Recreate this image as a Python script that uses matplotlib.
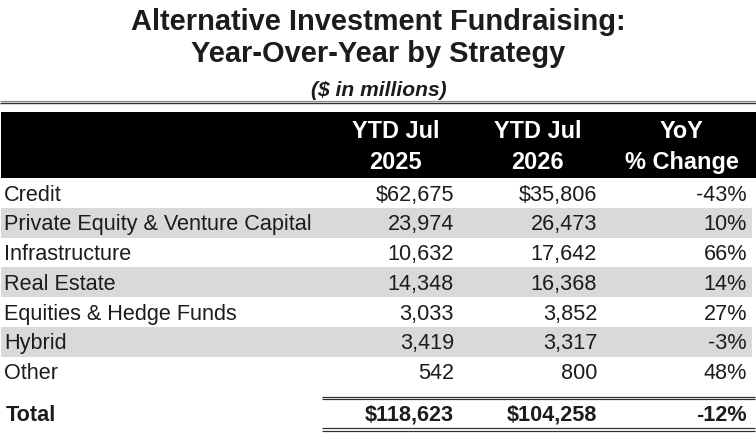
import matplotlib
matplotlib.use("Agg")
import matplotlib.pyplot as plt
from matplotlib.patches import Rectangle

plt.rcParams['font.family'] = ['Liberation Sans', 'DejaVu Sans']

title_lines = ["Alternative Investment Fundraising:", "Year-Over-Year by Strategy"]
subtitle = "($ in millions)"
col_headers = [("YTD Jul", "2025"), ("YTD Jul", "2026"), ("YoY", "% Change")]
strategies = ["Credit", "Private Equity & Venture Capital", "Infrastructure",
              "Real Estate", "Equities & Hedge Funds", "Hybrid", "Other"]
ytd_2025 = [62675, 23974, 10632, 14348, 3033, 3419, 542]
ytd_2026 = [35806, 26473, 17642, 16368, 3852, 3317, 800]
yoy_pct = [-43, 10, 66, 14, 27, -3, 48]
total_label = "Total"

total_2025 = sum(ytd_2025)
total_2026 = sum(ytd_2026)
total_pct = round((total_2026 / total_2025 - 1) * 100)

W, H = 756, 444
fig = plt.figure(figsize=(W / 100, H / 100), dpi=100)
ax = fig.add_axes([0, 0, 1, 1])
ax.set_xlim(0, W)
ax.set_ylim(H, 0)
ax.axis('off')

PX = 0.72  # points per pixel
TXT = '#1c1c1c'

# Title
ax.text(W / 2, 29.5, title_lines[0], ha='center', va='baseline',
        fontsize=29 * PX, fontweight='bold', color=TXT)
ax.text(W / 2, 62, title_lines[1], ha='center', va='baseline',
        fontsize=29 * PX, fontweight='bold', color=TXT)
ax.text(W / 2 + 1, 96, subtitle, ha='center', va='baseline',
        fontsize=21 * PX, fontweight='bold', fontstyle='italic', color=TXT)

# Top rule
ax.plot([0, W], [101.5, 101.5], color='#8a8a8a', lw=1.2 * PX, solid_capstyle='butt')
ax.plot([0, W], [103.2, 103.2], color='#303030', lw=1.4 * PX, solid_capstyle='butt')

# Header box
ax.add_patch(Rectangle((1, 112), W - 1, 66, facecolor='black', edgecolor='none'))
head_x = [395.5, 537.5, 682]
for hx, (l1, l2) in zip(head_x, col_headers):
    ax.text(hx, 138, l1, ha='center', va='baseline', fontsize=23.5 * PX,
            fontweight='bold', color='white')
    ax.text(hx, 169, l2, ha='center', va='baseline', fontsize=23.5 * PX,
            fontweight='bold', color='white')

# Rows
row0 = 193.0
pitch = 29.75
right_x = [454, 597, 747]
fs = 21.6 * PX
for i, name in enumerate(strategies):
    yc = row0 + i * pitch
    if i % 2 == 1:
        ax.add_patch(Rectangle((1, yc - 14.9), 751, 29.8, facecolor='#d9d9d9',
                               edgecolor='none'))
    yb = yc + 7.5
    prefix = "$" if i == 0 else ""
    ax.text(4, yb, name, ha='left', va='baseline', fontsize=fs, color=TXT)
    ax.text(right_x[0], yb, f"{prefix}{ytd_2025[i]:,}", ha='right', va='baseline',
            fontsize=fs, color=TXT)
    ax.text(right_x[1], yb, f"{prefix}{ytd_2026[i]:,}", ha='right', va='baseline',
            fontsize=fs, color=TXT)
    ax.text(right_x[2], yb, f"{yoy_pct[i]}%", ha='right', va='baseline',
            fontsize=fs, color=TXT)

# Total rules
ax.plot([322, 755], [396.6, 396.6], color='#303030', lw=1.2 * PX, solid_capstyle='butt')
ax.plot([322, 755], [398.6, 398.6], color='#303030', lw=1.2 * PX, solid_capstyle='butt')
ax.plot([322, 755], [428.2, 428.2], color='#303030', lw=1.2 * PX, solid_capstyle='butt')
ax.plot([322, 755], [431.2, 431.2], color='#303030', lw=1.2 * PX, solid_capstyle='butt')

# Total row
yb = 413 + 7.5
ax.text(6, yb, total_label, ha='left', va='baseline', fontsize=fs, fontweight='bold', color=TXT)
ax.text(right_x[0], yb, f"${total_2025:,}", ha='right', va='baseline', fontsize=fs,
        fontweight='bold', color=TXT)
ax.text(right_x[1], yb, f"${total_2026:,}", ha='right', va='baseline', fontsize=fs,
        fontweight='bold', color=TXT)
ax.text(right_x[2], yb, f"{total_pct}%", ha='right', va='baseline', fontsize=fs,
        fontweight='bold', color=TXT)

fig.savefig("out.png", dpi=100, facecolor='white')
